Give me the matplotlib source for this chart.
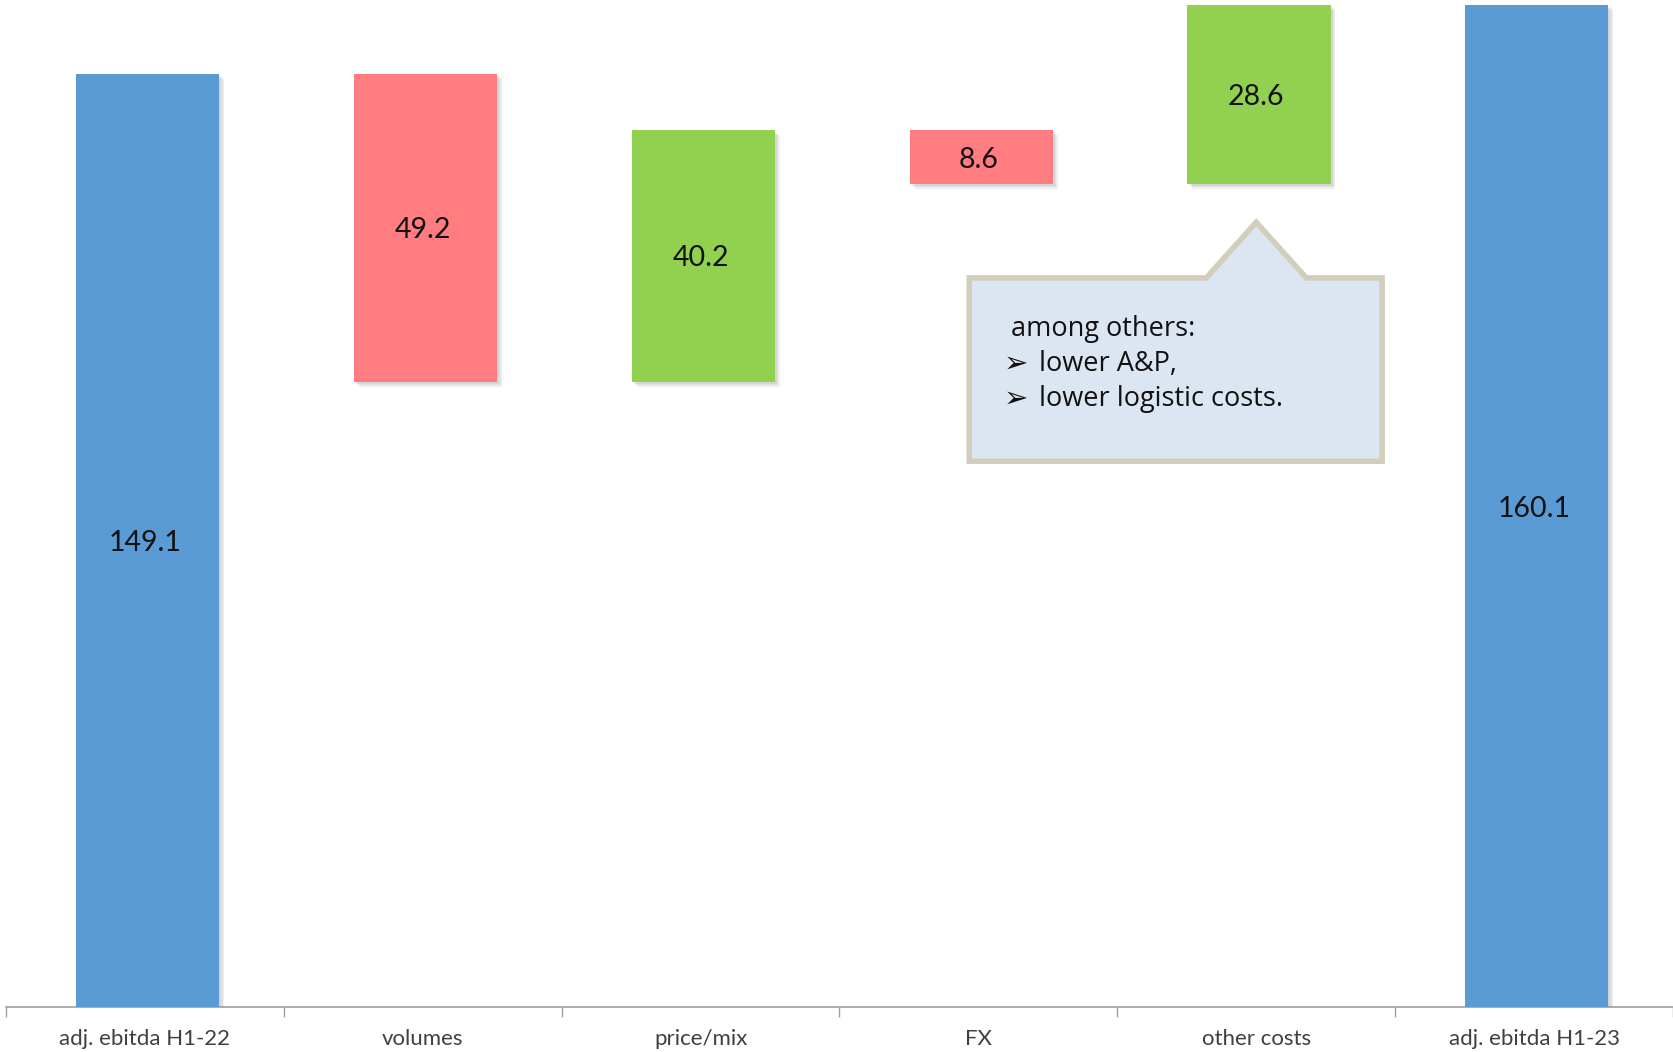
import matplotlib.pyplot as plt
import matplotlib.patheffects as pe
from matplotlib.patches import Polygon

categories = ['adj. ebitda H1-22', 'volumes', 'price/mix', 'FX', 'other costs', 'adj. ebitda H1-23']
values = [149.1, -49.2, 40.2, -8.6, 28.6, 160.1]
kinds = ['total', 'delta', 'delta', 'delta', 'delta', 'total']
note_lines = ['lower A&P,', 'lower logistic costs.']

BLUE = '#5B9BD5'
RED = '#FF7C80'
GREEN = '#92D050'

fig = plt.figure(figsize=(16.73, 10.52), dpi=100)
ax = fig.add_axes([6 / 1673, 45 / 1052, 1 - 6 / 1673, (1052 - 45 - 5) / 1052])

# soft drop shadow, stacked offsets
shadow = [pe.SimplePatchShadow(offset=(o, -o), shadow_rgbFace='#808080', alpha=0.12) for o in (3.5, 2.5, 1.5)]
shadow.append(pe.Normal())

running = 0.0
for i, (v, k) in enumerate(zip(values, kinds)):
    if k == 'total':
        bottom, height, color = 0, v, BLUE
        running = v
    else:
        if v < 0:
            bottom, height, color = running + v, -v, RED
        else:
            bottom, height, color = running, v, GREEN
        running += v
    bars = ax.bar(i + 0.01, height, bottom=bottom, width=0.515, color=color, zorder=3)
    for b in bars:
        b.set_path_effects(shadow)
    ax.text(i, bottom + height / 2 - 0.4, f'{abs(v):.1f}', ha='center', va='center',
            fontsize=20.5, family='Lato', color='#111111', zorder=4)

ax.set_xlim(-0.5, len(categories) - 0.5)
ax.set_ylim(0, max(values))

for s in ['top', 'right', 'left']:
    ax.spines[s].set_visible(False)
ax.spines['bottom'].set_color('#A0A0A0')
ax.spines['bottom'].set_linewidth(1.2)
ax.set_yticks([])

ax.set_xticks([i - 0.5 for i in range(len(categories) + 1)])
ax.set_xticklabels([])
ax.tick_params(axis='x', which='major', length=7, width=1.0, color='#A0A0A0')
ax.set_xticks(range(len(categories)), minor=True)
ax.set_xticklabels(categories, minor=True, family='Lato', fontsize=16, color='#404040')
ax.tick_params(axis='x', which='minor', length=0, pad=16)

# callout pointing at "other costs"
cx = 4.0
apex_y = 125.4
box = [(2.967, 116.5), (cx - 0.18, 116.5), (cx, apex_y), (cx + 0.18, 116.5),
       (4.453, 116.5), (4.453, 87.2), (2.967, 87.2)]
ax.add_patch(Polygon(box, closed=True, facecolor='#DCE6F2', edgecolor='#D3CEBC',
                     linewidth=4, joinstyle='miter', zorder=5))
ax.text(3.118, 108.4, 'among others:', ha='left', va='center', fontsize=19.5,
        family='Open Sans', color='#111111', zorder=6)
for j, line in enumerate(note_lines):
    y = 102.8 - j * 5.6
    ax.text(3.092, y, '\u27a2', ha='left', va='center', fontsize=21,
            family='DejaVu Sans', color='#111111', zorder=6)
    ax.text(3.218, y, line, ha='left', va='center', fontsize=19.5,
            family='Open Sans', color='#111111', zorder=6)

fig.savefig('out.png', dpi=100)
